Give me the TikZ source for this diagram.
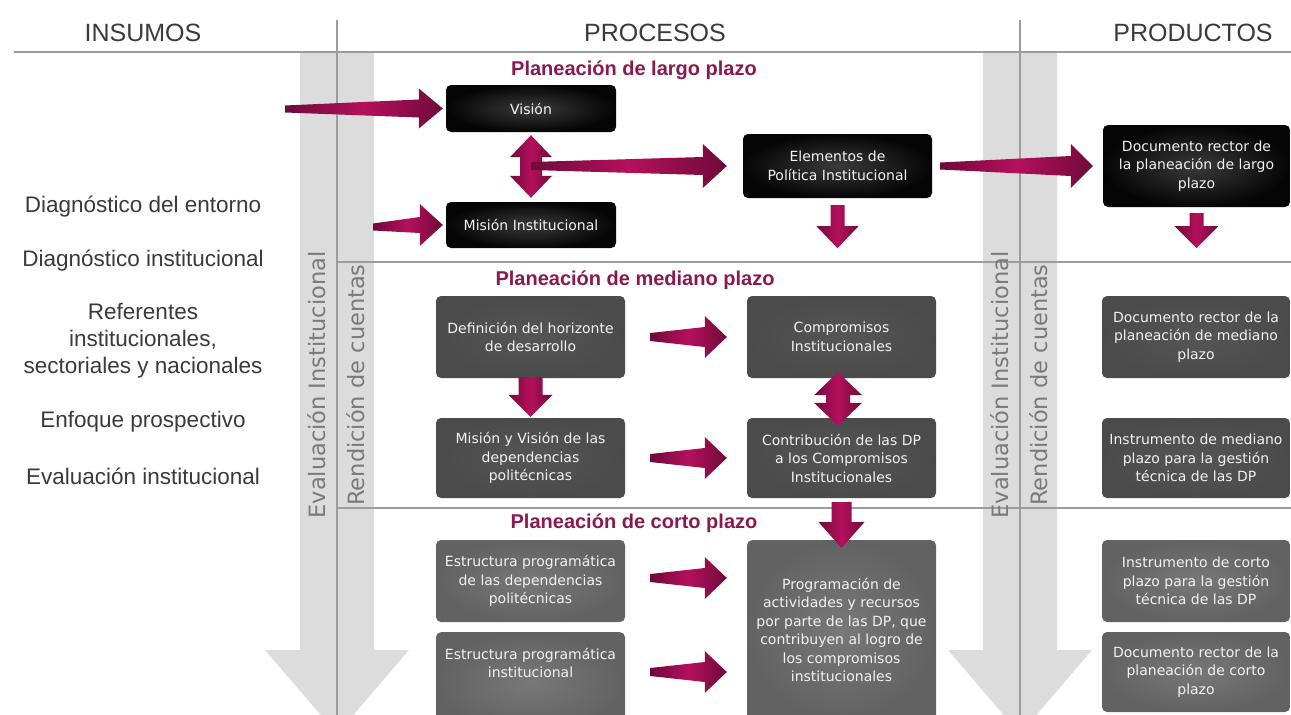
\documentclass[tikz,border=0pt]{standalone}
\usepackage{fontspec}
\setmainfont{Liberation Sans}
\newfontfamily\boxfont{DejaVu Sans}
\usetikzlibrary{calc}
\definecolor{linegray}{HTML}{9C9C9C}
\definecolor{arrowgray}{HTML}{DCDCDC}
\definecolor{labgray}{HTML}{7A7A7A}
\definecolor{txtdark}{HTML}{3A3A3A}
\definecolor{titlemaroon}{HTML}{8A1A4E}
\definecolor{mdark}{HTML}{6E0A3A}
\definecolor{mbright}{HTML}{B5105C}
\definecolor{boxblack}{HTML}{050505}
\definecolor{boxblackc}{HTML}{3A3A3A}
\definecolor{boxmid}{HTML}{4B4B4B}
\definecolor{boxmidc}{HTML}{555555}
\definecolor{boxlight}{HTML}{626262}
\definecolor{boxlightc}{HTML}{787878}
\definecolor{boxtxt}{HTML}{F2F2F2}

\tikzset{
  maroonshade/.style={left color=mdark, right color=mdark, middle color=mbright},
  boxbase/.style={rectangle, rounded corners=5pt, text=boxtxt, align=center,
    inner sep=2pt, font=\boxfont\fontsize{14}{18.5}\selectfont},
  blackbox/.style={boxbase, inner color=boxblackc, outer color=boxblack},
  midbox/.style={boxbase, inner color=boxmidc, outer color=boxmid},
  lightbox/.style={boxbase, inner color=boxlightc, outer color=boxlight},
  boxtext/.style={text=boxtxt, align=center, inner sep=0pt,
    font=\boxfont\fontsize{14}{18.5}\selectfont},
  header/.style={text=txtdark, inner sep=0pt, font=\fontsize{25}{30}\selectfont},
  insumo/.style={text=txtdark, inner sep=0pt, align=center,
    font=\fontsize{22.5}{27}\selectfont},
  sidelabel/.style={text=labgray, inner sep=0pt, rotate=90,
    font=\boxfont\fontsize{22.5}{27}\selectfont},
  sectitle/.style={text=titlemaroon, inner sep=0pt,
    font=\bfseries\fontsize{20}{24}\selectfont},
  gridline/.style={draw=linegray, line width=2pt},
  bigarrow/.style={fill=arrowgray}
}

% horizontal block arrow: tail, tip, tail half, shaft half, head half, head length
\newcommand{\harrow}[6]{%
  \shade[maroonshade]
   ($(#1)+(0,-#3)$) -- ($(#2)+(-#6,-#4)$) -- ($(#2)+(-#6,-#5)$) -- (#2)
   -- ($(#2)+(-#6,#5)$) -- ($(#2)+(-#6,#4)$) -- ($(#1)+(0,#3)$) -- cycle;}
% downward block arrow: top, tip, top half, shaft half, head half, head length
\newcommand{\varrow}[6]{%
  \shade[maroonshade]
   ($(#1)+(-#3,0)$) -- ($(#2)+(-#4,-#6)$) -- ($(#2)+(-#5,-#6)$) -- (#2)
   -- ($(#2)+(#5,-#6)$) -- ($(#2)+(#4,-#6)$) -- ($(#1)+(#3,0)$) -- cycle;}
% double vertical block arrow: top tip, bottom tip, shaft half, head half, head length
\newcommand{\dvarrow}[5]{%
  \shade[maroonshade]
   (#1) -- ($(#1)+(#4,#5)$) -- ($(#1)+(#3,#5)$) -- ($(#2)+(#3,-#5)$)
   -- ($(#2)+(#4,-#5)$) -- (#2) -- ($(#2)+(-#4,-#5)$) -- ($(#2)+(-#3,-#5)$)
   -- ($(#1)+(-#3,#5)$) -- ($(#1)+(-#4,#5)$) -- cycle;}

\begin{document}
\begin{tikzpicture}[x=1pt,y=-1pt]
\useasboundingbox (0,0) rectangle (1291,715);
\fill[white] (0,0) rectangle (1291,715);

% big gray arrows
\fill[bigarrow] (300,52) -- (374,52) -- (374,650) -- (409,650) -- (337,734)
  -- (265,650) -- (300,650) -- cycle;
\fill[bigarrow] (983,52) -- (1057,52) -- (1057,650) -- (1092,650) -- (1020,734)
  -- (948,650) -- (983,650) -- cycle;

% grid lines
\draw[gridline] (14,52) -- (1291,52);
\draw[gridline] (337,20) -- (337,715);
\draw[gridline] (1020,20) -- (1020,715);
\draw[gridline] (337,262) -- (1291,262);
\draw[gridline] (337,508) -- (1291,508);

% headers
\node[header] (hins) at (143,33) {INSUMOS};
\node[header] (hpro) at (655,33) {PROCESOS};
\node[header] (hprd) at (1193,33) {PRODUCTOS};

% side labels
\node[sidelabel] (ev1) at (317,385) {Evaluación Institucional};
\node[sidelabel] (rc1) at (356,385) {Rendición de cuentas};
\node[sidelabel] (ev2) at (1000,385) {Evaluación Institucional};
\node[sidelabel] (rc2) at (1039,385) {Rendición de cuentas};

% insumos
\node[insumo] (i1) at (143,207) {Diagnóstico del entorno};
\node[insumo] (i2) at (143,261) {Diagnóstico institucional};
\node[insumo] (i3) at (143,341) {Referentes\\institucionales,\\sectoriales y nacionales};
\node[insumo] (i4) at (143,422) {Enfoque prospectivo};
\node[insumo] (i5) at (143,476) {Evaluación institucional};

% section titles
\node[sectitle] (t1) at (634,70) {Planeación de largo plazo};
\node[sectitle] (t2) at (635,280) {Planeación de mediano plazo};
\node[sectitle] (t3) at (634,523) {Planeación de corto plazo};

% largo plazo boxes
\node[blackbox, minimum width=170, minimum height=47] (vision) at (531,108.5) {Visión};
\node[blackbox, minimum width=170, minimum height=46] (mision) at (531,225) {Misión Institucional};
\node[blackbox, minimum width=189, minimum height=64] (elementos) at (837.5,166) {Elementos de\\Política Institucional};
\node[blackbox, minimum width=187, minimum height=82] (docl) at (1196.5,166) {Documento rector de\\la planeación de largo\\plazo};

% mediano plazo boxes
\node[midbox, minimum width=189, minimum height=82] (defin) at (530.5,337) {Definición del horizonte\\de desarrollo};
\node[midbox, minimum width=189, minimum height=80] (misvis) at (530.5,458) {Misión y Visión de las\\dependencias\\politécnicas};
\node[midbox, minimum width=189, minimum height=82] (comp) at (841.5,337) {Compromisos\\Institucionales};
\node[midbox, minimum width=189, minimum height=80] (contrib) at (841.5,458) {Contribución de las DP\\a los Compromisos\\Institucionales};
\node[midbox, minimum width=188, minimum height=82] (docm) at (1196,337) {Documento rector de la\\planeación de mediano\\plazo};
\node[midbox, minimum width=188, minimum height=80] (instm) at (1196,458) {Instrumento de mediano\\plazo para la gestión\\técnica de las DP};

% corto plazo boxes
\node[lightbox, minimum width=189, minimum height=82] (estdp) at (530.5,581) {Estructura programática\\de las dependencias\\politécnicas};
\node[lightbox, minimum width=189, minimum height=100, anchor=north] (estin) at (530.5,632) {};
\node[boxtext] (estintxt) at (530.5,663) {Estructura programática\\institucional};
\node[lightbox, minimum width=189, minimum height=180, anchor=north] (prog) at (841.5,540) {Programación de\\actividades y recursos\\por parte de las DP, que\\contribuyen al logro de\\los compromisos\\institucionales};
\node[lightbox, minimum width=188, minimum height=82] (instc) at (1196,581) {Instrumento de corto\\plazo para la gestión\\técnica de las DP};
\node[lightbox, minimum width=188, minimum height=80] (docc) at (1196,672) {Documento rector de la\\planeación de corto\\plazo};

% connector coordinates
\coordinate (a1t) at (285,109);
\coordinate (a1h) at ($(vision.west)+(-3,0)$);
\coordinate (a2t) at (373,227);
\coordinate (a2h) at ($(mision.west)+(-3,0)$);
\coordinate (a3a) at ($(vision.south)+(0,3)$);
\coordinate (a3b) at ($(mision.north)+(0,-4)$);
\coordinate (a4t) at (531,166);
\coordinate (a4h) at ($(elementos.west)+(-16,0)$);
\coordinate (a5t) at ($(elementos.east)+(8,0)$);
\coordinate (a5h) at ($(docl.west)+(-10,0)$);
\coordinate (a6t) at ($(elementos.south)+(0,7)$);
\coordinate (a6h) at ($(elementos.south)+(0,50)$);
\coordinate (a7t) at ($(docl.south)+(0,6)$);
\coordinate (a7h) at ($(docl.south)+(0,41)$);
\coordinate (a8t) at ($(defin.east)+(25,0)$);
\coordinate (a8h) at ($(comp.west)+(-20,0)$);
\coordinate (a9t) at ($(misvis.east)+(25,0)$);
\coordinate (a9h) at ($(contrib.west)+(-20,0)$);
\coordinate (a10t) at ($(defin.south)+(0,-1)$);
\coordinate (a10h) at ($(misvis.north)+(0,-1)$);
\coordinate (a11a) at ($(comp.south)+(-3.5,-6)$);
\coordinate (a11b) at ($(contrib.north)+(-3.5,8)$);
\coordinate (a12t) at ($(contrib.south)+(0,4)$);
\coordinate (a12h) at ($(prog.north)+(0,8)$);
\coordinate (a13t) at ($(estdp.east)+(25,-3)$);
\coordinate (p13) at (prog.west |- a13t);
\coordinate (a13h) at ($(p13)+(-20,0)$);
\coordinate (a14t) at ($(estin.north east)+(25,40)$);
\coordinate (p14) at (prog.west |- a14t);
\coordinate (a14h) at ($(p14)+(-20,0)$);

% maroon block arrows
\harrow{a1t}{a1h}{3.5}{9}{20}{24}
\harrow{a2t}{a2h}{3.5}{8}{21}{23}
\dvarrow{a3a}{a3b}{11}{21}{22}
\harrow{a4t}{a4h}{4}{9}{22}{24}
\harrow{a5t}{a5h}{3.5}{10}{22}{22}
\varrow{a6t}{a6h}{7}{7}{21}{22}
\varrow{a7t}{a7h}{7}{7}{22}{22}
\harrow{a8t}{a8h}{4}{10}{21}{22}
\harrow{a9t}{a9h}{4}{10}{21}{22}
\varrow{a10t}{a10h}{12}{12}{22}{22}
\dvarrow{a11a}{a11b}{12}{24}{23}
\varrow{a12t}{a12h}{10}{10}{23}{26}
\harrow{a13t}{a13h}{4}{10}{21}{22}
\harrow{a14t}{a14h}{4}{10}{21}{22}
\end{tikzpicture}
\end{document}
